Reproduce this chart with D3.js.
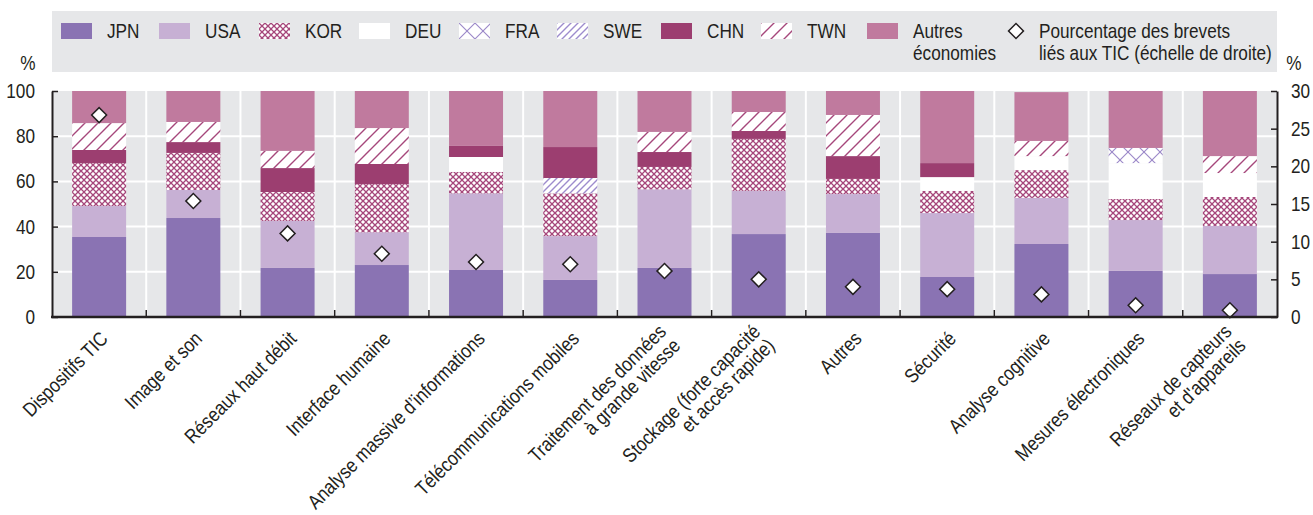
<!DOCTYPE html>
<html>
<head>
<meta charset="utf-8">
<script src="https://cdn.jsdelivr.net/npm/d3@7"></script>
<style>
body { margin: 0; background: #fff; }
text { font-family: "Liberation Sans", Arial, sans-serif; font-size: 20px; fill: #231f20; }
</style>
</head>
<body>
<div id="chart"></div>
<script>

// categories (line breaks as in the original labels)
var categories = [
	"Dispositifs TIC", "Image et son", "Réseaux haut débit", "Interface humaine",
	"Analyse massive d’informations", "Télécommunications mobiles",
	"Traitement des données\nà grande vitesse", "Stockage (forte capacité\net accès rapide)",
	"Autres", "Sécurité", "Analyse cognitive", "Mesures électroniques",
	"Réseaux de capteurs\net d'appareils"
];

// shares of patents, %
var jpn    = [35.4, 43.8, 21.7, 23.0, 20.8, 16.4, 21.7, 36.7, 37.2, 17.7, 32.3, 20.4, 19.0];
var usa    = [13.7, 12.4, 20.8, 14.5, 33.9, 19.4, 34.8, 19.1, 17.2, 28.3, 20.4, 22.5, 21.3];
var kor    = [19.0, 16.4, 12.8, 21.3,  9.5, 18.9,  9.9, 23.0,  6.7,  9.8, 12.3,  9.3, 12.8];
var deu    = [ 0,    0,    0,    0,    6.6,  0,    0,    0,    0,    6.1,  6.2, 15.9, 10.6];
var fra    = [ 0,    0,    0,    0,    0,    0,    0,    0,    0,    0,    0,    6.7,  0  ];
var swe    = [ 0,    0,    0,    0,    0,    6.8,  0,    0,    0,    0,    0,    0,    0  ];
var chn    = [ 5.8,  4.8, 10.6,  8.9,  4.9, 13.7,  6.6,  3.5, 10.1,  6.2,  0,    0,    0  ];
var twn    = [11.9,  8.9,  7.6, 15.9,  0,    0,    8.9,  8.4, 18.2,  0,    6.7,  0,    7.5];
var autres = [14.2, 13.7, 26.5, 16.4, 24.3, 24.8, 18.1,  9.3, 10.6, 31.9, 21.6, 25.2, 28.8];

// share of ICT-related patents (right axis), %
var ict_share = [26.8, 15.4, 11.1, 8.4, 7.3, 7.0, 6.1, 5.0, 4.0, 3.7, 3.0, 1.55, 0.9];

var series_keys  = ["JPN", "USA", "KOR", "DEU", "FRA", "SWE", "CHN", "TWN", "Autres"];
var series_vals  = [jpn, usa, kor, deu, fra, swe, chn, twn, autres];
var legend_names = ["JPN", "USA", "KOR", "DEU", "FRA", "SWE", "CHN", "TWN", "Autres\néconomies"];

var left_ticks  = [0, 20, 40, 60, 80, 100];
var right_ticks = [0, 5, 10, 15, 20, 25, 30];

// --------------------------------------------------------

var chart_width  = 1313;
var chart_height = 515;
var plot = { left: 52, right: 1277, top: 91, bottom: 317 };
var narrow = " scale(0.86,1)";	// no condensed font installed: squeeze the regular one

var fills = {
	JPN: "#8a73b3", USA: "#c7b0d4", KOR: "url(#p-kor)", DEU: "#ffffff",
	FRA: "url(#p-fra)", SWE: "url(#p-swe)", CHN: "#9c3e70", TWN: "url(#p-twn)",
	Autres: "#c07a9e"
};

var svg = d3.select("#chart")
	.append("svg")
	.attr("width", chart_width)
	.attr("height", chart_height);

// --------------------------------------------------------
// patterns
var defs = svg.append("defs");

function pattern(id, size, paths, color, width) {
	var p = defs.append("pattern")
		.attr("id", id)
		.attr("patternUnits", "userSpaceOnUse")
		.attr("width", size)
		.attr("height", size);
	p.append("rect").attr("width", size).attr("height", size).attr("fill", "#fff");
	paths.forEach(function(d) {
		p.append("path").attr("d", d).attr("stroke", color)
			.attr("stroke-width", width).attr("fill", "none");
	});
}
pattern("p-kor", 6, ["M0,0 L6,6 M-3,3 L3,9 M3,-3 L9,3", "M0,6 L6,0 M-3,3 L3,-3 M3,9 L9,3"], "#a6477b", 1.3);
pattern("p-fra", 16, ["M0,0 L16,16", "M0,16 L16,0"], "#9a86c8", 1.1);
pattern("p-swe", 7, ["M0,7 L7,0 M-2,2 L2,-2 M5,9 L9,5"], "#9d8ccd", 1.4);
pattern("p-twn", 13, ["M0,13 L13,0 M-3,3 L3,-3 M10,16 L16,10"], "#a6477b", 1.4);

// --------------------------------------------------------
// scales
var rows = categories.map(function(c, i) {
	var r = { cat: c, ict: ict_share[i] };
	series_keys.forEach(function(k, j) { r[k] = series_vals[j][i]; });
	return r;
});

var x_scale = d3.scaleBand()
	.domain(d3.range(categories.length))
	.range([plot.left, plot.right])
	.paddingInner(0.427)
	.paddingOuter(0.2135);

var y_scale = d3.scaleLinear().domain([0, 100]).range([plot.bottom, plot.top]);
var y2_scale = d3.scaleLinear().domain([0, 30]).range([plot.bottom, plot.top]);

var step = x_scale.step();
var boundaries = d3.range(1, categories.length).map(function(i) { return plot.left + i * step; });

// --------------------------------------------------------
// legend
svg.append("rect")
	.attr("x", plot.left).attr("y", 11)
	.attr("width", plot.right - plot.left).attr("height", 61)
	.attr("fill", "#e6e7e9");

var legend_x = [61, 159, 259, 359, 459, 557, 661, 761, 867];
var legend = svg.append("g").selectAll("g")
	.data(series_keys)
	.enter().append("g")
	.attr("transform", function(d, i) { return "translate(" + legend_x[i] + ",23)"; });

legend.append("rect")
	.attr("width", 31).attr("height", 16)
	.attr("fill", function(d) { return fills[d]; });

legend.append("text")
	.attr("transform", "translate(46,15)" + narrow)
	.each(function(d, i) {
		var t = d3.select(this);
		legend_names[i].split("\n").forEach(function(line, k) {
			t.append("tspan").attr("x", 0).attr("dy", k ? 22 : 0).text(line);
		});
	});

svg.append("path")
	.attr("d", d3.symbol(d3.symbolSquare, 112)())
	.attr("transform", "translate(1016,31) rotate(45)")
	.attr("fill", "#fff").attr("stroke", "#231f20").attr("stroke-width", 1.5);

svg.append("text")
	.attr("transform", "translate(1039,38)" + narrow)
	.selectAll("tspan")
	.data(["Pourcentage des brevets", "liés aux TIC (échelle de droite)"])
	.enter().append("tspan")
	.attr("x", 0).attr("dy", function(d, i) { return i ? 22 : 0; })
	.text(function(d) { return d; });

// unit labels
svg.append("text").attr("transform", "translate(28,70)" + narrow)
	.attr("text-anchor", "middle").text("%");
svg.append("text").attr("transform", "translate(1294,70)" + narrow)
	.attr("text-anchor", "middle").text("%");

// --------------------------------------------------------
// plot background and grid
svg.append("rect")
	.attr("x", plot.left).attr("y", plot.top)
	.attr("width", plot.right - plot.left).attr("height", plot.bottom - plot.top)
	.attr("fill", "#e6e7e9");

svg.append("g").selectAll("line")
	.data([20, 40, 60, 80])
	.enter().append("line")
	.attr("x1", plot.left).attr("x2", plot.right)
	.attr("y1", function(d) { return y_scale(d); })
	.attr("y2", function(d) { return y_scale(d); })
	.attr("stroke", "#fff").attr("stroke-width", 2);

svg.append("g").selectAll("line")
	.data(boundaries)
	.enter().append("line")
	.attr("x1", function(d) { return d; }).attr("x2", function(d) { return d; })
	.attr("y1", plot.top).attr("y2", plot.bottom)
	.attr("stroke", "#fff").attr("stroke-width", 2);

// --------------------------------------------------------
// stacked bars
var stacked = d3.stack().keys(series_keys)(rows);

svg.append("g")
	.selectAll("g")
	.data(stacked)
	.enter().append("g")
	.attr("fill", function(d) { return fills[d.key]; })
	.selectAll("rect")
	.data(function(d) { return d.filter(function(s) { return s[1] - s[0] > 0; }); })
	.enter().append("rect")
	.attr("x", function(d) { return x_scale(rows.indexOf(d.data)); })
	.attr("width", x_scale.bandwidth())
	.attr("y", function(d) { return y_scale(d[1]); })
	.attr("height", function(d) { return y_scale(d[0]) - y_scale(d[1]); });

// diamonds (right axis)
svg.append("g").selectAll("path")
	.data(rows)
	.enter().append("path")
	.attr("d", d3.symbol(d3.symbolSquare, 112)())
	.attr("transform", function(d, i) {
		return "translate(" + (x_scale(i) + x_scale.bandwidth() / 2) + "," + y2_scale(d.ict) + ") rotate(45)";
	})
	.attr("fill", "#fff").attr("stroke", "#231f20").attr("stroke-width", 1.5);

// --------------------------------------------------------
// axes
var y_axis = d3.axisLeft(y_scale).tickValues(left_ticks).tickSizeInner(-6).tickSizeOuter(0);
var y_axis_g = svg.append("g")
	.attr("transform", "translate(" + plot.left + ",0)")
	.call(y_axis);
y_axis_g.selectAll(".tick text").attr("x", 0).attr("transform", "translate(-17,0)" + narrow);

var y2_axis = d3.axisRight(y2_scale).tickValues(right_ticks).tickSizeInner(-6).tickSizeOuter(0);
var y2_axis_g = svg.append("g")
	.attr("transform", "translate(" + plot.right + ",0)")
	.call(y2_axis);
y2_axis_g.selectAll(".tick text").attr("x", 0).attr("transform", "translate(14,0)" + narrow);

[y_axis_g, y2_axis_g].forEach(function(g) {
	g.select(".domain").attr("stroke", "#231f20").attr("stroke-width", 2);
	g.selectAll(".tick line").attr("stroke", "#231f20").attr("stroke-width", 1.5);
	g.selectAll(".tick text").style("font-size", "20px").attr("fill", "#231f20");
});

// bottom axis line and ticks
svg.append("line")
	.attr("x1", plot.left - 1).attr("x2", plot.right + 1)
	.attr("y1", plot.bottom).attr("y2", plot.bottom)
	.attr("stroke", "#231f20").attr("stroke-width", 2.5);

svg.append("g").selectAll("line")
	.data(boundaries)
	.enter().append("line")
	.attr("x1", function(d) { return d; }).attr("x2", function(d) { return d; })
	.attr("y1", plot.bottom).attr("y2", plot.bottom - 7)
	.attr("stroke", "#231f20").attr("stroke-width", 1.5);

// category labels, rotated
svg.append("g").selectAll("text")
	.data(categories)
	.enter().append("text")
	.attr("text-anchor", "end")
	.attr("transform", function(d, i) {
		return "translate(" + (x_scale(i) + x_scale.bandwidth() / 2 + 5) + "," + (plot.bottom + 18) + ") rotate(-45)" + narrow;
	})
	.each(function(d) {
		var lines = d.split("\n");
		var t = d3.select(this);
		lines.forEach(function(line, k) {
			t.append("tspan")
				.attr("x", 0)
				.attr("y", (k - (lines.length - 1) / 2) * 20)
				.attr("dy", "0.35em")
				.text(line);
		});
	});

</script>
</body>
</html>
